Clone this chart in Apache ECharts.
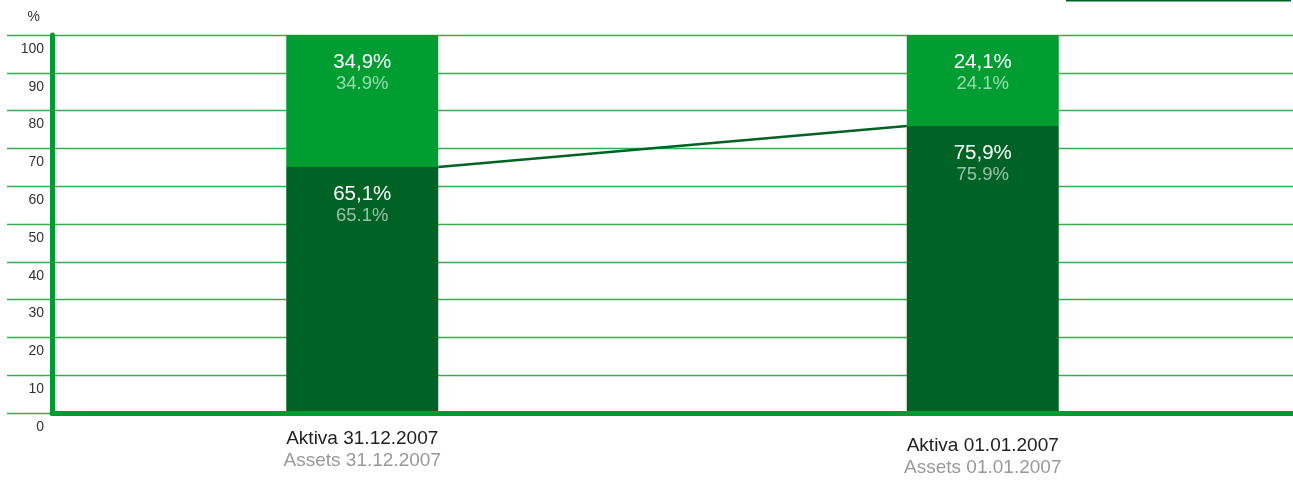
<!DOCTYPE html>
<html>
<head>
<meta charset="utf-8">
<script src="https://cdn.jsdelivr.net/npm/echarts@6/dist/echarts.min.js"></script>
<style>
  html, body { margin: 0; padding: 0; background: #fff; }
  #chart { width: 1293px; height: 480px; }
</style>
</head>
<body>
<div id="chart"></div>
<script>
// Balance structure: assets split at two reporting dates
const categoriesDe = ['Aktiva 31.12.2007', 'Aktiva 01.01.2007'];
const categoriesEn = ['Assets 31.12.2007', 'Assets 01.01.2007'];
const lowerShare = [65.1, 75.9];   // dark segment
const upperShare = [34.9, 24.1];   // light segment
const yTicks = [0, 10, 20, 30, 40, 50, 60, 70, 80, 90, 100];

const FONT = '"Liberation Sans", Arial, sans-serif';
const DARK = '#006325';
const LIGHT = '#009e32';
const AXIS = '#009a33';
const GRID = '#35ad50';
const BAR_WIDTH = 152;

const fmtDe = v => v.toFixed(1).replace('.', ',') + '%';
const fmtEn = v => v.toFixed(1) + '%';

const segLabel = {
  show: true,
  position: 'insideTop',
  distance: 16,
  formatter: p => '{a|' + fmtDe(p.value) + '}\n{b|' + fmtEn(p.value) + '}',
  rich: {
    a: { fontFamily: FONT, fontSize: 20.5, color: '#ffffff', lineHeight: 22, align: 'center' },
    b: { fontFamily: FONT, fontSize: 18.5, color: 'rgba(255,255,255,0.6)', lineHeight: 22, align: 'center' }
  }
};

// Connector between the tops of the dark segments, running from the
// right edge of the first bar to the left edge of the second one.
function renderConnector(params, api) {
  const p1 = api.coord([0, lowerShare[0]]);
  const p2 = api.coord([1, lowerShare[1]]);
  const half = BAR_WIDTH / 2;
  return {
    type: 'line',
    shape: { x1: p1[0] + half, y1: p1[1], x2: p2[0] - half, y2: p2[1] },
    style: { stroke: DARK, lineWidth: 2.5, fill: null }
  };
}

const chart = echarts.init(document.getElementById('chart'), null, { renderer: 'canvas' });

chart.setOption({
  animation: false,
  backgroundColor: '#ffffff',
  grid: [
    { left: 52, right: 0, top: 35, bottom: 67, containLabel: false, outerBoundsMode: 'none' },
    { left: 7, right: 0, top: 35, bottom: 67, containLabel: false, outerBoundsMode: 'none' }
  ],
  xAxis: [
    {
      type: 'category',
      gridIndex: 0,
      z: 5,
      data: categoriesDe.map((c, i) => ({
        value: c,
        textStyle: { padding: i === 1 ? [7, 0, 0, 0] : [0, 0, 0, 0] }
      })),
      axisTick: { show: false },
      axisLine: { show: true, lineStyle: { color: AXIS, width: 5 } },
      axisLabel: {
        margin: 15,
        formatter: (v, i) => '{a|' + v + '}\n{b|' + categoriesEn[i] + '}',
        rich: {
          a: { fontFamily: FONT, fontSize: 19, color: '#222222', lineHeight: 22 },
          b: { fontFamily: FONT, fontSize: 19, color: '#999999', lineHeight: 22 }
        }
      }
    },
    {
      type: 'value',
      gridIndex: 1,
      show: false,
      min: 0,
      max: 1
    }
  ],
  yAxis: [
    {
      type: 'value',
      gridIndex: 0,
      z: 5,
      min: 0,
      max: 100,
      interval: 10,
      name: '%',
      nameLocation: 'end',
      nameGap: 11,
      nameTextStyle: { fontFamily: FONT, fontSize: 14, color: '#333333', align: 'right', padding: [0, 12, 0, 0] },
      axisLine: { show: true, lineStyle: { color: AXIS, width: 5 } },
      axisTick: { show: false },
      splitLine: { show: false },
      axisLabel: {
        margin: 8,
        verticalAlign: 'top',
        padding: [7, 0, 0, 0],
        fontFamily: FONT,
        fontSize: 14,
        color: '#333333',
        formatter: v => (yTicks.indexOf(v) >= 0 ? String(v) : '')
      }
    },
    {
      type: 'value',
      gridIndex: 1,
      min: 0,
      max: 100,
      interval: 10,
      axisLine: { show: false },
      axisTick: { show: false },
      axisLabel: { show: false },
      splitLine: { show: true, lineStyle: { color: GRID, width: 1.3 } }
    }
  ],
  graphic: [
    {
      type: 'line',
      shape: { x1: 1066, y1: 0.5, x2: 1291, y2: 0.5 },
      style: { stroke: DARK, lineWidth: 2 }
    }
  ],
  series: [
    {
      name: 'connector',
      type: 'custom',
      xAxisIndex: 0,
      yAxisIndex: 0,
      data: [0],
      renderItem: renderConnector,
      z: 4
    },
    {
      name: 'lower',
      type: 'bar',
      stack: 'total',
      xAxisIndex: 0,
      yAxisIndex: 0,
      barWidth: BAR_WIDTH,
      data: lowerShare,
      itemStyle: { color: DARK },
      label: segLabel,
      z: 3
    },
    {
      name: 'upper',
      type: 'bar',
      stack: 'total',
      xAxisIndex: 0,
      yAxisIndex: 0,
      barWidth: BAR_WIDTH,
      data: upperShare,
      itemStyle: { color: LIGHT },
      label: segLabel,
      z: 3
    }
  ]
});
</script>
</body>
</html>
